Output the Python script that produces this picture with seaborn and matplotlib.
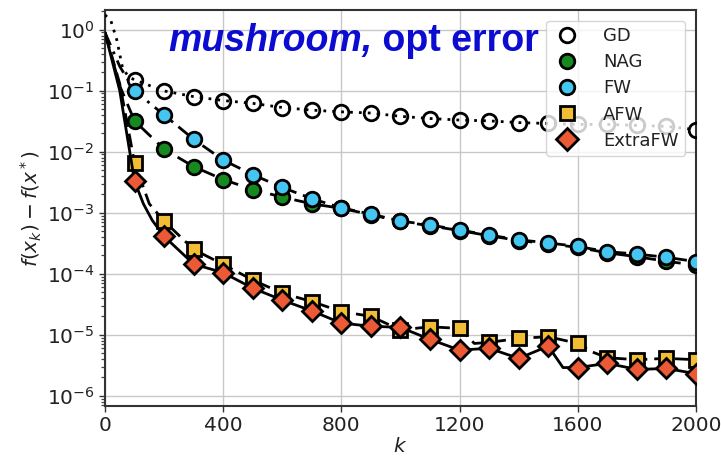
import matplotlib
matplotlib.use("Agg")
import numpy as np
import pandas as pd
import matplotlib.pyplot as plt
import seaborn as sns
from matplotlib.lines import Line2D
from matplotlib.ticker import FixedLocator, NullFormatter

# ---------------- data ----------------
marker_k = list(range(100, 2001, 100))

gd_k = [0, 20, 40, 60, 80] + marker_k
gd_v = [1.75, 1.4, 0.68, 0.23, 0.17,
        0.15, 0.099, 0.080, 0.069, 0.062, 0.053, 0.048, 0.045, 0.043, 0.038,
        0.035, 0.033, 0.032, 0.030, 0.029, 0.028, 0.028, 0.027, 0.026, 0.023]

nag_k = [0, 50] + marker_k
nag_v = [0.9, 0.12,
         0.032, 0.011, 0.0057, 0.0035, 0.0024, 0.0018, 0.0014, 0.00118, 0.00093, 0.00072,
         0.00061, 0.00051, 0.00042, 0.00035, 0.00031, 0.00027, 0.00022, 0.00019, 0.00016, 0.000138]

fw_k = [0, 50] + marker_k
fw_v = [0.9, 0.25,
        0.10, 0.040, 0.016, 0.0073, 0.0042, 0.0026, 0.0017, 0.0012, 0.00095, 0.00073,
        0.00063, 0.00052, 0.00043, 0.00036, 0.00032, 0.00028, 0.00023, 0.00021, 0.000186, 0.000158]

afw_k = [0, 50, 100, 150, 200, 300, 400, 500, 600, 700, 800, 900, 1000, 1100, 1200, 1250,
         1300, 1400, 1500, 1600, 1650, 1700, 1800, 1900, 2000]
afw_v = [0.9, 0.13, 0.0066, 0.0014, 0.00073, 0.00025, 0.000142, 0.000079, 0.000048,
         0.000035, 0.000024, 0.000020, 0.000012, 0.0000135, 0.0000127, 0.0000072,
         0.0000075, 0.0000087, 0.0000093, 0.0000072, 0.0000052, 0.0000042, 0.0000039,
         0.0000041, 0.0000039]

efw_k = [0, 50, 100, 130, 160, 200, 300, 400, 500, 600, 700, 800, 900, 1000, 1100, 1200,
         1300, 1400, 1500, 1550, 1600, 1700, 1800, 1900, 2000]
efw_v = [0.9, 0.10, 0.0033, 0.0014, 0.00075, 0.00041, 0.000144, 0.000104, 0.000058, 0.000037,
         0.0000246, 0.0000155, 0.0000138, 0.0000132, 0.0000084, 0.0000056, 0.0000060,
         0.0000041, 0.0000065, 0.0000029, 0.0000029, 0.0000034, 0.0000027, 0.0000028,
         0.0000023]

names = ["GD", "NAG", "FW", "AFW", "ExtraFW"]
series_k = [gd_k, nag_k, fw_k, afw_k, efw_k]
series_v = [gd_v, nag_v, fw_v, afw_v, efw_v]

# ---------------- style ----------------
face = ["none", "#168a1e", "#45c6f2", "#f0bd35", "#ec5a35"]
marks = ["o", "o", "o", "s", "D"]
lstyle = [(0, (1, 2.2)), (0, (6, 3)), (0, (5, 2.5, 1, 2.5)), (0, (5, 2.5)), "-"]

sns.set_style("ticks")
plt.rcParams["font.family"] = ["DejaVu Sans"]

fig = plt.figure(figsize=(7.21, 4.59), dpi=100)
ax = fig.add_axes([0.1456, 0.1155, 0.8197, 0.8627])

for i, name in enumerate(names):
    df = pd.DataFrame({"k": series_k[i], "v": series_v[i]})
    idx = [j for j, kk in enumerate(series_k[i]) if kk in marker_k]
    sns.lineplot(data=df, x="k", y="v", ax=ax, estimator=None, sort=False,
                 color="black", linewidth=2.0, linestyle=lstyle[i],
                 marker=marks[i], markersize=10.5 if marks[i] != "D" else 10.0,
                 markerfacecolor=face[i], markeredgecolor="black",
                 markeredgewidth=2.0, markevery=idx, zorder=3 + i)

ax.set_yscale("log")
ax.set_xlim(0, 2000)
ax.set_ylim(6.8e-7, 2.1)
ax.set_xticks([0, 400, 800, 1200, 1600, 2000])
ax.set_yticks([1e0, 1e-1, 1e-2, 1e-3, 1e-4, 1e-5, 1e-6])
minor_pos = [m * 10.0 ** e for e in range(-7, 1) for m in range(2, 10)]
ax.yaxis.set_minor_locator(FixedLocator(minor_pos))
ax.yaxis.set_minor_formatter(NullFormatter())
ax.set_ylim(6.8e-7, 2.1)
ax.grid(True, which="major", color="#c8c8c8", linewidth=1.0, zorder=0)
ax.tick_params(axis="both", which="major", labelsize=14.5, length=4, width=1.0,
               color="#333", labelcolor="#222")
ax.tick_params(axis="y", which="minor", left=True, length=3.0, width=0.9, color="#444")
for s in ax.spines.values():
    s.set_color("#333333")
    s.set_linewidth(1.5)

ax.set_xlabel(r"$k$", fontsize=14.5, labelpad=1, color="#222")
ax.set_ylabel(r"$f(x_k) - f(x^*)$", fontsize=14.5, labelpad=2, color="#222")

# legend (markers only)
handles = [Line2D([], [], linestyle="none", marker=marks[i], markersize=10.5 if marks[i] != "D" else 11,
                  markerfacecolor=(face[i] if face[i] != "none" else "white"),
                  markeredgecolor="black", markeredgewidth=2.0) for i in range(5)]
leg = ax.legend(handles, names, loc="upper right", fontsize=13, framealpha=0.8,
                borderaxespad=0.6, handletextpad=1.2, labelspacing=0.45,
                borderpad=0.35, handlelength=1.6, bbox_to_anchor=(1.0, 1.0))
leg.set_zorder(20)
for t in leg.get_texts():
    t.set_color("#222222")

# title inside axes
tcolor = "#0b0bd2"
t1 = fig.text(168 / 721, 1 - 51 / 459, "mushroom,", fontsize=27, fontweight="bold",
              fontstyle="italic", family="Liberation Sans", color=tcolor, va="baseline", ha="left",
              zorder=30)
fig.canvas.draw()
bb = t1.get_window_extent(renderer=fig.canvas.get_renderer())
fig.text(bb.x1 / fig.bbox.width, 1 - 51 / 459, " opt error", fontsize=27, fontweight="bold",
         family="Liberation Sans", color=tcolor, va="baseline", ha="left", zorder=30)

fig.savefig("out.png", dpi=100)
